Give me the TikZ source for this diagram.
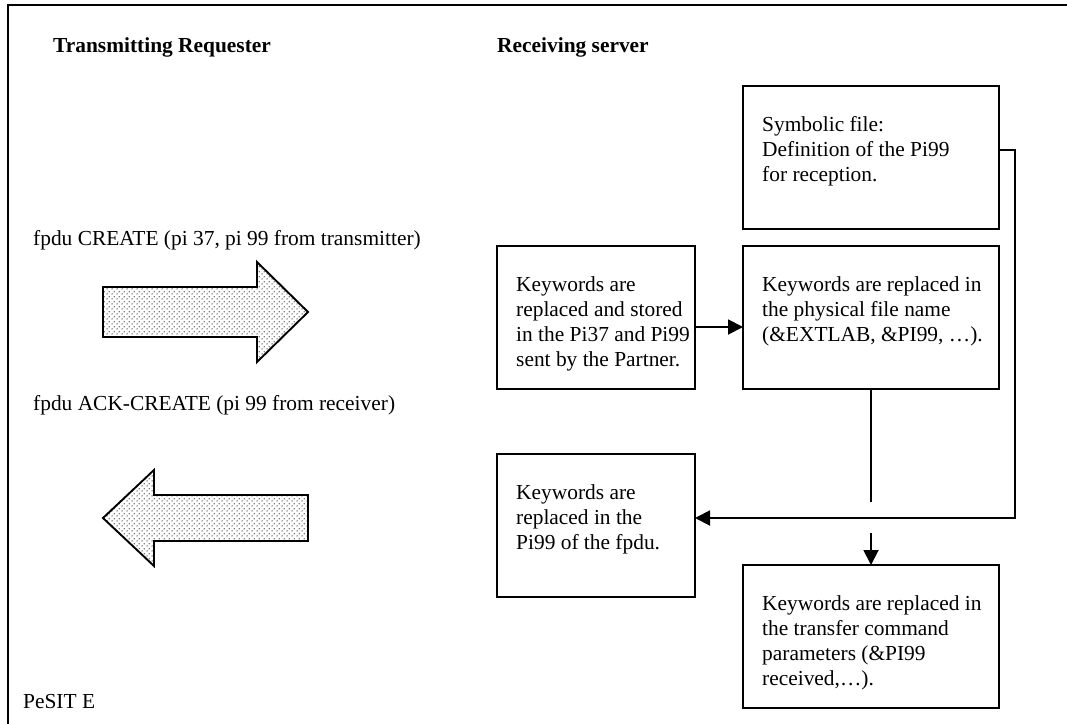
\documentclass[tikz,border=0pt]{standalone}
\usepackage{fontspec}
\setmainfont{Liberation Serif}
\usetikzlibrary{patterns.meta,arrows.meta}

\tikzdeclarepattern{
  name=mydots, type=uncolored,
  bounding box={(0pt,0pt) and (4.6pt,4.6pt)},
  tile size={(4.6pt,4.6pt)},
  code={
    \pgfpathcircle{\pgfpoint{1.15pt}{1.15pt}}{0.75pt}
    \pgfpathcircle{\pgfpoint{3.45pt}{3.45pt}}{0.75pt}
    \pgfusepath{fill}
  }
}

\tikzset{
  box/.style={draw, line width=1.9pt, inner sep=0pt, outer sep=0pt, anchor=north west},
  txt/.style={inner sep=0pt, align=left, font=\fontsize{21.4}{25}\selectfont},
  head/.style={inner sep=0pt, font=\fontsize{21.4}{25}\selectfont\bfseries},
  conn/.style={line width=1.9pt, -{Triangle[length=15pt,width=15pt]}},
  plain/.style={line width=1.9pt},
  fatarrow/.style={draw, line width=1.9pt, line join=miter, pattern={mydots}, pattern color=black!70}
}

\begin{document}
\begin{tikzpicture}[x=1pt,y=-1pt]
\useasboundingbox (0,0) rectangle (1067,723);
% outer frame
\draw[line width=2.5pt] (8,740) -- (8,5) -- (1080,5);

% headings
\node[head, anchor=base west] (hreq) at (53,52) {Transmitting Requester};
\node[head, anchor=base west] (hsrv) at (497,52) {Receiving server};

% boxes
\node[box, minimum width=256pt, minimum height=143pt] (sym) at (743,86) {};
\node[box, minimum width=198pt, minimum height=143pt] (stored) at (497,246) {};
\node[box, minimum width=256pt, minimum height=143pt] (phys) at (743,246) {};
\node[box, minimum width=198pt, minimum height=143pt] (fpdu) at (497,454) {};
\node[box, minimum width=256pt, minimum height=143pt] (trans) at (743,565) {};

% box texts
\node[txt, anchor=north west] (symt) at ([shift={(19,30)}]sym.north west) {Symbolic file:\\Definition of the Pi99\\for reception.};
\node[txt, anchor=north west] (storedt) at ([shift={(19,30)}]stored.north west) {Keywords are\\replaced and stored\\in the Pi37 and Pi99\\sent by the Partner.};
\node[txt, anchor=north west] (physt) at ([shift={(19,30)}]phys.north west) {Keywords are replaced in\\the physical file name\\(\&EXTLAB, \&PI99, …).};
\node[txt, anchor=north west] (fpdut) at ([shift={(19,30)}]fpdu.north west) {Keywords are\\replaced in the\\Pi99 of the fpdu.};
\node[txt, anchor=north west] (transt) at ([shift={(19,30)}]trans.north west) {Keywords are replaced in\\the transfer command\\parameters (\&PI99\\received,…).};

% labels
\node[txt, anchor=west] (lcreate) at (33,240) {fpdu CREATE (pi 37, pi 99 from transmitter)};
\node[txt, anchor=west] (lack) at (33,405) {fpdu ACK-CREATE (pi 99 from receiver)};
\node[txt, anchor=west] (lpesit) at (23,702) {PeSIT E};

% fat arrows
\draw[fatarrow] (103,287) -- (257,287) -- (257,262) -- (308,312) -- (257,362) -- (257,337) -- (103,337) -- cycle;
\draw[fatarrow] (308,495) -- (154,495) -- (154,470) -- (103,518) -- (154,566) -- (154,541) -- (308,541) -- cycle;

% connectors
\coordinate (rtop) at (1015,150);
\coordinate (rbot) at (1015,518);
\coordinate (vend) at (871,502);
\coordinate (vstart) at (871,533);
\draw[conn] ([yshift=-9.5pt]stored.east) -- ([yshift=-9.5pt]phys.west);
\draw[conn] (sym.east |- rtop) -- (rtop) -- (rbot) -- (fpdu.east |- rbot);
\draw[plain] (phys.south) -- (phys.south |- vend);
\draw[conn] (trans.north |- vstart) -- (trans.north);
\end{tikzpicture}
\end{document}
